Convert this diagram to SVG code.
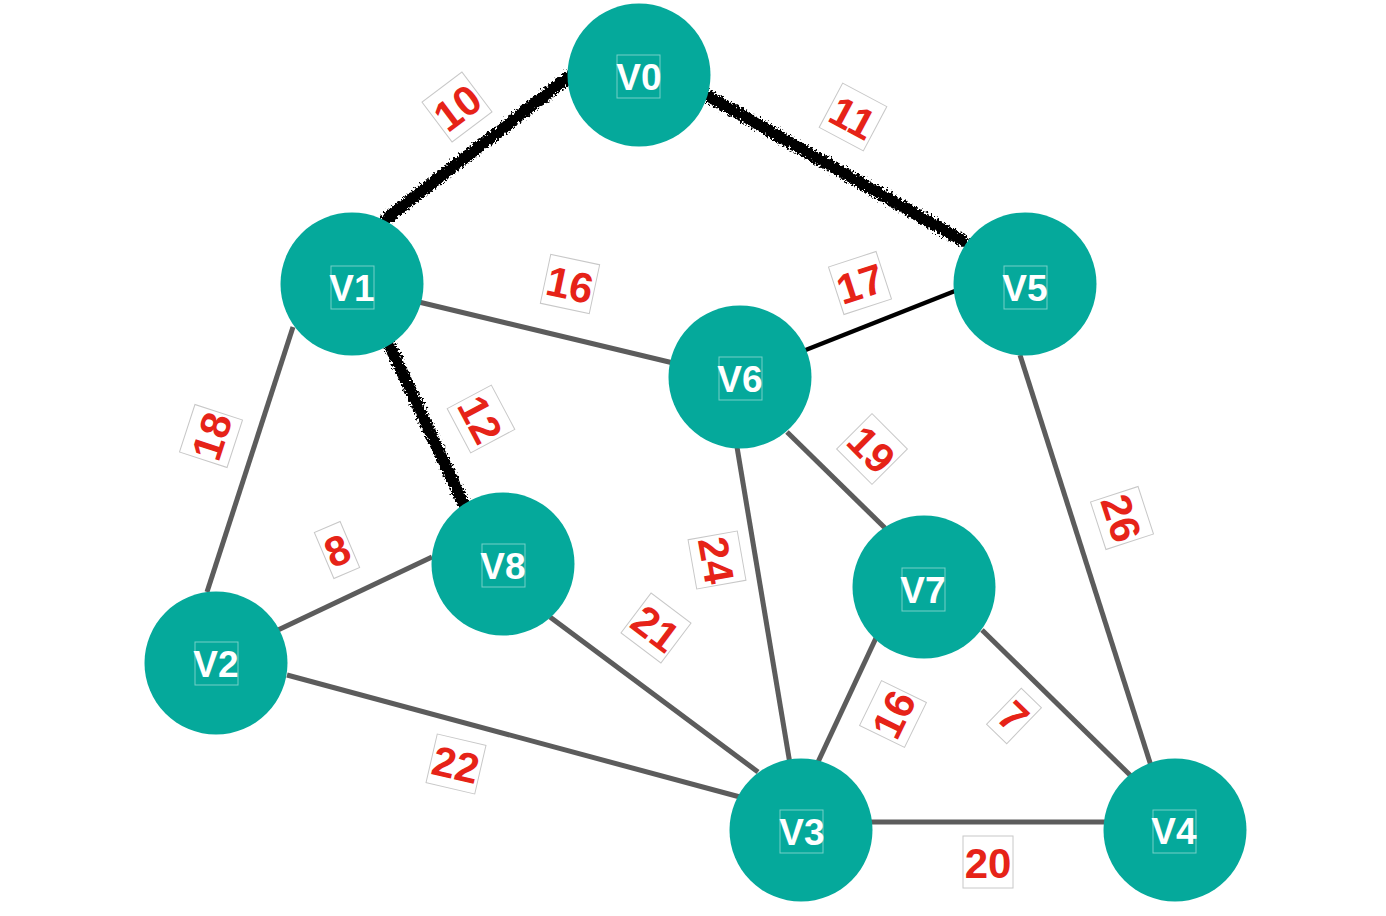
<svg xmlns="http://www.w3.org/2000/svg" width="1386" height="916" viewBox="0 0 1386 916">
<style>
.e{stroke:#5c5c5c;stroke-width:5;fill:none;stroke-linecap:butt}
.b{stroke:#000;stroke-width:4.5;fill:none}
.r{stroke:#000;stroke-width:12;fill:none;stroke-linecap:round}
.n{fill:#05a99b}
.nt{font-family:"Liberation Sans",Arial,sans-serif;font-weight:bold;font-size:37px;fill:#fff;text-anchor:middle;dominant-baseline:central}
.nb{fill:none;stroke:#fff;stroke-opacity:0.45;stroke-width:1}
.lt{font-family:"Liberation Sans",Arial,sans-serif;font-weight:bold;font-size:42px;fill:#e62318;text-anchor:middle;dominant-baseline:central}
.lb{fill:#fff;stroke:#c8c8c8;stroke-width:1}
</style>
<defs>
<filter id="rough" filterUnits="userSpaceOnUse" x="0" y="0" width="1386" height="916">
<feTurbulence type="fractalNoise" baseFrequency="0.45" numOctaves="3" seed="7" result="t"/>
<feDisplacementMap in="SourceGraphic" in2="t" scale="9" xChannelSelector="R" yChannelSelector="G"/>
</filter>
</defs>
<rect width="1386" height="916" fill="#fff"/>
<g id="edges">
<line class="e" x1="352" y1="284" x2="740" y2="377" transform="translate(0,2)"/>
<line class="b" x1="798" y1="353" x2="960" y2="289"/>
<line class="e" x1="293" y1="327" x2="207" y2="592"/>
<line class="e" x1="278" y1="630" x2="432" y2="557"/>
<line class="e" x1="287" y1="675" x2="740" y2="797"/>
<line class="e" x1="550" y1="617" x2="758" y2="772"/>
<line class="e" x1="737" y1="447" x2="790" y2="764"/>
<line class="e" x1="787" y1="432" x2="885" y2="528"/>
<line class="e" x1="876" y1="638" x2="818" y2="762"/>
<line class="e" x1="982" y1="630" x2="1132" y2="777"/>
<line class="e" x1="1020" y1="355" x2="1153" y2="772"/>
<line class="e" x1="870" y1="822" x2="1106" y2="822"/>
<g filter="url(#rough)">
<line class="r" x1="386" y1="219" x2="570" y2="76"/>
<line class="r" x1="708" y1="96" x2="963" y2="241"/>
<line class="r" x1="389" y1="344" x2="463" y2="503"/>
</g>
</g>
<g id="V0"><circle class="n" cx="639" cy="75" r="71.5"/><rect class="nb" x="617" y="55" width="43" height="43"/><text class="nt" x="639" y="77">V0</text></g>
<g id="V1"><circle class="n" cx="352" cy="284" r="71.5"/><rect class="nb" x="331" y="266" width="43" height="43"/><text class="nt" x="352" y="288">V1</text></g>
<g id="V5"><circle class="n" cx="1025" cy="284" r="71.5"/><rect class="nb" x="1004" y="266" width="43" height="43"/><text class="nt" x="1025" y="288">V5</text></g>
<g id="V6"><circle class="n" cx="740" cy="377" r="71.5"/><rect class="nb" x="719" y="357" width="43" height="43"/><text class="nt" x="740" y="379">V6</text></g>
<g id="V8"><circle class="n" cx="503" cy="564" r="71.5"/><rect class="nb" x="482" y="544" width="43" height="43"/><text class="nt" x="503" y="566">V8</text></g>
<g id="V2"><circle class="n" cx="216" cy="663" r="71.5"/><rect class="nb" x="195" y="642" width="43" height="43"/><text class="nt" x="216" y="664">V2</text></g>
<g id="V7"><circle class="n" cx="924" cy="587" r="71.5"/><rect class="nb" x="902" y="568" width="43" height="43"/><text class="nt" x="923" y="590">V7</text></g>
<g id="V3"><circle class="n" cx="801" cy="830" r="71.5"/><rect class="nb" x="780" y="810" width="43" height="43"/><text class="nt" x="802" y="832">V3</text></g>
<g id="V4"><circle class="n" cx="1175" cy="830" r="71.5"/><rect class="nb" x="1153" y="810" width="43" height="43"/><text class="nt" x="1174" y="831">V4</text></g>
<g id="labels">
<g transform="translate(457,107) rotate(-37)"><rect class="lb" x="-25" y="-25" width="50" height="50"/><text class="lt" y="1">10</text></g>
<g transform="translate(853,117) rotate(28)"><rect class="lb" x="-25" y="-25" width="50" height="50"/><text class="lt" y="1">11</text></g>
<g transform="translate(570,284) rotate(12)"><rect class="lb" x="-25" y="-25" width="50" height="50"/><text class="lt" y="1">16</text></g>
<g transform="translate(860,283) rotate(-18)"><rect class="lb" x="-25" y="-25" width="50" height="50"/><text class="lt" y="1">17</text></g>
<g transform="translate(481,419) rotate(62)"><rect class="lb" x="-25" y="-25" width="50" height="50"/><text class="lt" y="1">12</text></g>
<g transform="translate(211,436) rotate(-72)"><rect class="lb" x="-25" y="-25" width="50" height="50"/><text class="lt" y="1">18</text></g>
<g transform="translate(337,550) rotate(-23)"><rect class="lb" x="-14" y="-25" width="28" height="50"/><text class="lt" y="1">8</text></g>
<g transform="translate(872,449) rotate(45)"><rect class="lb" x="-25" y="-25" width="50" height="50"/><text class="lt" y="1">19</text></g>
<g transform="translate(717,560) rotate(80)"><rect class="lb" x="-25" y="-25" width="50" height="50"/><text class="lt" y="1">24</text></g>
<g transform="translate(1122,518) rotate(72)"><rect class="lb" x="-25" y="-25" width="50" height="50"/><text class="lt" y="1">26</text></g>
<g transform="translate(656,628) rotate(37)"><rect class="lb" x="-25" y="-25" width="50" height="50"/><text class="lt" y="1">21</text></g>
<g transform="translate(893,714) rotate(-64)"><rect class="lb" x="-25" y="-25" width="50" height="50"/><text class="lt" y="1">16</text></g>
<g transform="translate(1014,716) rotate(44)"><rect class="lb" x="-14" y="-25" width="28" height="50"/><text class="lt" y="1">7</text></g>
<g transform="translate(456,764) rotate(13)"><rect class="lb" x="-25" y="-25" width="50" height="50"/><text class="lt" y="1">22</text></g>
<g transform="translate(988,862)"><rect class="lb" x="-25" y="-26" width="50" height="52"/><text class="lt" y="1">20</text></g>
</g>
</svg>
